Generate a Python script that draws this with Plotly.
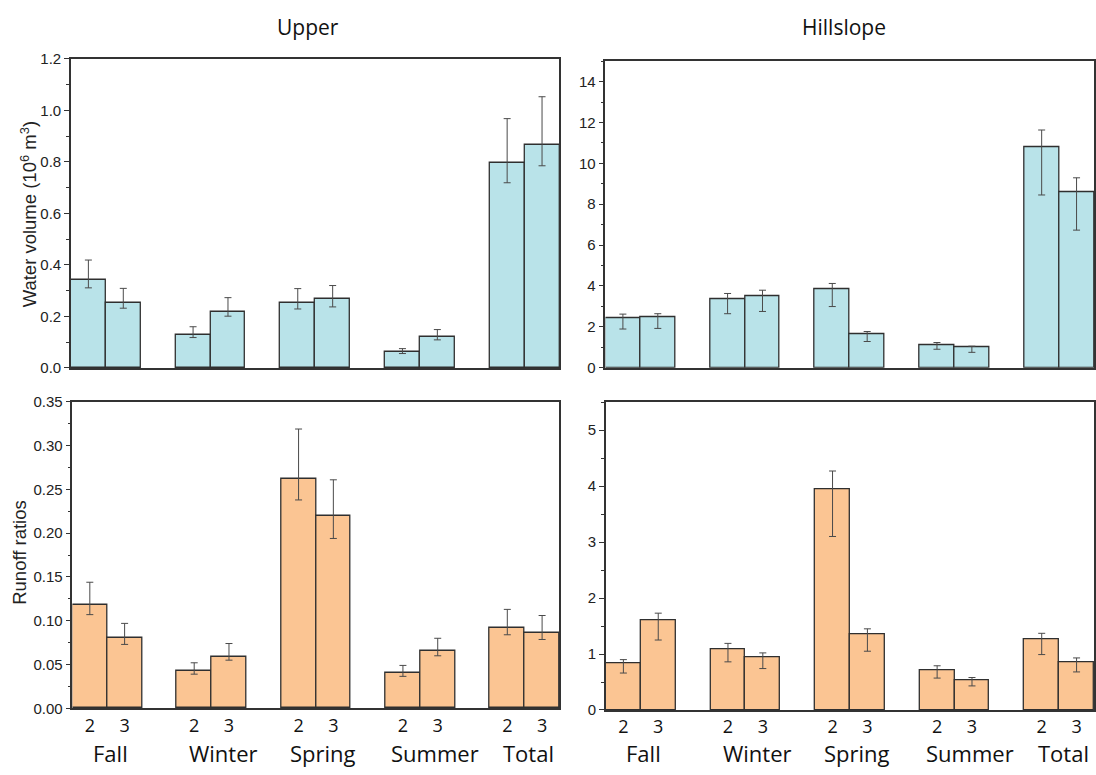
import plotly.graph_objects as go

W, H = 1096, 775

seasons = ["Fall", "Winter", "Spring", "Summer", "Total"]
sub_labels = ["2", "3"]

# Upper - water volume (10^6 m3): value, upper bound, lower bound for series "2" and "3"
up_vol_2 = [0.343, 0.130, 0.252, 0.061, 0.795]
up_vol_2_hi = [0.419, 0.160, 0.308, 0.075, 0.968]
up_vol_2_lo = [0.311, 0.118, 0.229, 0.056, 0.719]
up_vol_3 = [0.252, 0.219, 0.268, 0.120, 0.868]
up_vol_3_hi = [0.309, 0.273, 0.320, 0.149, 1.053]
up_vol_3_lo = [0.232, 0.201, 0.237, 0.109, 0.785]

# Hillslope - water volume
hs_vol_2 = [2.43, 3.36, 3.82, 1.12, 10.77]
hs_vol_2_hi = [2.62, 3.63, 4.12, 1.23, 11.63]
hs_vol_2_lo = [1.89, 2.64, 2.99, 0.90, 8.45]
hs_vol_3 = [2.46, 3.50, 1.65, 0.99, 8.60]
hs_vol_3_hi = [2.64, 3.79, 1.77, 1.05, 9.29]
hs_vol_3_lo = [1.92, 2.75, 1.28, 0.75, 6.73]

# Upper - runoff ratios
up_rr_2 = [0.118, 0.0428, 0.262, 0.0402, 0.0924]
up_rr_2_hi = [0.144, 0.052, 0.319, 0.049, 0.113]
up_rr_2_lo = [0.107, 0.039, 0.238, 0.0365, 0.084]
up_rr_3 = [0.080, 0.0589, 0.220, 0.0659, 0.0864]
up_rr_3_hi = [0.097, 0.074, 0.261, 0.080, 0.106]
up_rr_3_lo = [0.073, 0.055, 0.194, 0.060, 0.0786]

# Hillslope - runoff ratios
hs_rr_2 = [0.84, 1.09, 3.94, 0.72, 1.26]
hs_rr_2_hi = [0.90, 1.19, 4.27, 0.79, 1.37]
hs_rr_2_lo = [0.66, 0.86, 3.10, 0.57, 0.99]
hs_rr_3 = [1.61, 0.94, 1.35, 0.54, 0.86]
hs_rr_3_hi = [1.73, 1.02, 1.45, 0.58, 0.93]
hs_rr_3_lo = [1.25, 0.74, 1.05, 0.43, 0.68]

BLUE = "#b9e3e9"
ORANGE = "#fbc593"
EDGE = "#2f2f2f"
ERR = "#4a4a4a"
AXC = "#333333"

BW = 1 / 3.0
x2 = [i - BW / 2 for i in range(len(seasons))]
x3 = [i + BW / 2 for i in range(len(seasons))]


def px_x(a, b):
    return [a / W, b / W]


def px_y(top, bottom):
    return [(H - bottom) / H, (H - top) / H]


fig = go.Figure()

panels = [
    ("x", "y", up_vol_2, up_vol_2_hi, up_vol_2_lo, up_vol_3, up_vol_3_hi, up_vol_3_lo, BLUE),
    ("x2", "y2", hs_vol_2, hs_vol_2_hi, hs_vol_2_lo, hs_vol_3, hs_vol_3_hi, hs_vol_3_lo, BLUE),
    ("x3", "y3", up_rr_2, up_rr_2_hi, up_rr_2_lo, up_rr_3, up_rr_3_hi, up_rr_3_lo, ORANGE),
    ("x4", "y4", hs_rr_2, hs_rr_2_hi, hs_rr_2_lo, hs_rr_3, hs_rr_3_hi, hs_rr_3_lo, ORANGE),
]

for xa, ya, v2, h2, l2, v3, h3, l3, col in panels:
    for xs, v, hi, lo in ((x2, v2, h2, l2), (x3, v3, h3, l3)):
        fig.add_trace(go.Bar(
            x=xs, y=v, width=BW, xaxis=xa, yaxis=ya,
            marker=dict(color=col, line=dict(color=EDGE, width=1.3)),
            error_y=dict(type="data", symmetric=False,
                         array=[h - a for h, a in zip(hi, v)],
                         arrayminus=[a - l for a, l in zip(v, lo)],
                         color=ERR, thickness=1, width=3.5),
            showlegend=False,
        ))

tickfont = dict(family="Liberation Sans, Arial", size=15, color="#222")
xr = [-BW, len(seasons) - 1 + BW]
tickvals = []
ticktext = []
for a, b in zip(x2, x3):
    tickvals += [a, b]
    ticktext += sub_labels

common_x = dict(range=xr, showline=True, mirror=True, linecolor=AXC, linewidth=1.5,
                ticks="", showgrid=False, zeroline=False, fixedrange=True)


def yaxis(domain, rng, dtick, minor, anchor, fmt):
    return dict(domain=domain, range=rng, dtick=dtick, tick0=0, tickformat=fmt,
                showline=True, mirror=True, linecolor=AXC, linewidth=1.5,
                ticks="outside", ticklen=5, tickwidth=1.2, tickcolor=AXC,
                minor=dict(dtick=minor, tick0=0, ticks="outside", ticklen=3, tickwidth=1, tickcolor=AXC),
                showgrid=False, zeroline=False, tickfont=tickfont, anchor=anchor)


numfont = dict(family="Open Sans, Noto Sans", size=18, color="#111")

fig.update_layout(
    width=W, height=H,
    margin=dict(l=0, r=0, t=0, b=0),
    paper_bgcolor="white", plot_bgcolor="white",
    bargap=0,
    xaxis=dict(domain=px_x(71, 560), anchor="y", showticklabels=False, **common_x),
    xaxis2=dict(domain=px_x(606, 1095), anchor="y2", showticklabels=False, **common_x),
    xaxis3=dict(domain=px_x(72.5, 560), anchor="y3", tickvals=tickvals, ticktext=ticktext,
                tickfont=numfont, ticklabelstandoff=0, **common_x),
    xaxis4=dict(domain=px_x(606.5, 1095), anchor="y4", tickvals=tickvals, ticktext=ticktext,
                tickfont=numfont, ticklabelstandoff=0, **common_x),
    yaxis=yaxis(px_y(51, 367), [0, 1.2], 0.2, 0.1, "x", ".1f"),
    yaxis2=yaxis(px_y(53.3, 366.7), [0, 15], 2, 1, "x2", "d"),
    yaxis3=yaxis(px_y(401.7, 715), [0, 0.35], 0.05, 0.025, "x3", ".2f"),
    yaxis4=yaxis(px_y(402, 716.7), [0, 5.5], 1, 0.5, "x4", "d"),
)

annotations = []
titlefont = dict(family="Open Sans, Noto Sans", size=21, color="#111")
annotations.append(dict(text="Upper", x=308 / W, y=(H - 18) / H, xref="paper", yref="paper",
                        showarrow=False, font=titlefont, xanchor="center", yanchor="middle"))
annotations.append(dict(text="Hillslope", x=845 / W, y=(H - 18) / H, xref="paper", yref="paper",
                        showarrow=False, font=titlefont, xanchor="center", yanchor="middle"))

axtitlefont = dict(family="Liberation Sans, Arial", size=18.5, color="#222")
annotations.append(dict(text="Water volume (10<sup>6</sup> m<sup>3</sup>)", x=29 / W, y=(H - 210) / H,
                        xref="paper", yref="paper", textangle=-90, showarrow=False,
                        font=axtitlefont, xanchor="center", yanchor="middle"))
annotations.append(dict(text="Runoff ratios", x=20 / W, y=(H - 555) / H,
                        xref="paper", yref="paper", textangle=-90, showarrow=False,
                        font=axtitlefont, xanchor="center", yanchor="middle"))

catfont = dict(family="Open Sans, Noto Sans", size=22, color="#111")
label_shift = [3, 12, 7, 15, 4]
for xa in ("x3", "x4"):
    for i, s in enumerate(seasons):
        annotations.append(dict(text=s, x=i, xref=xa, y=0, yref="paper", yshift=-2,
                                xshift=label_shift[i], showarrow=False, font=catfont,
                                xanchor="center", yanchor="bottom", borderpad=0))

fig.update_layout(annotations=annotations)

fig.write_html("out.html")
